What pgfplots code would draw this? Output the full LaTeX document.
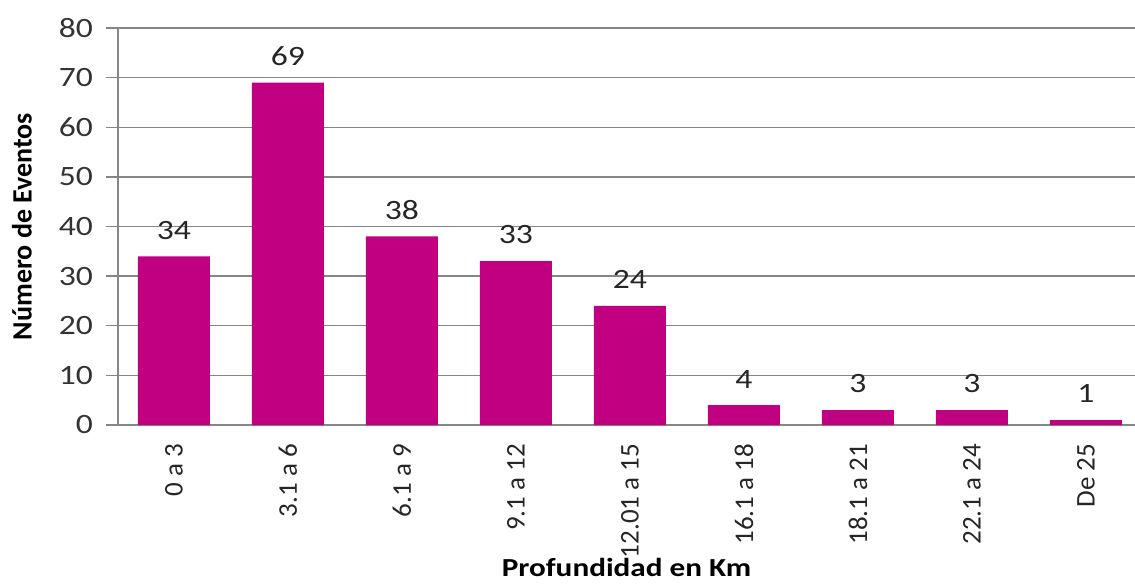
\documentclass[border=0pt]{standalone}
\usepackage{fontspec}
\setmainfont{Carlito}
\newfontfamily\wide[FakeStretch=1.2]{Carlito}
\usepackage{pgfplots}
\pgfplotsset{compat=1.18}
\definecolor{barmag}{RGB}{192,0,128}
\definecolor{gridg}{RGB}{134,134,134}
\begin{document}
\begin{tikzpicture}
\begin{axis}[name=ax, scale only axis, width=508.5pt, height=198.5pt,
  ybar, bar width=36pt,
  xmin=-0.49, xmax=8.43, ymin=0, ymax=80, ytick={0,10,...,80},
  xtick=data,
  xticklabels={0 a 3,3.1 a 6,6.1 a 9,9.1 a 12,12.01 a 15,16.1 a 18,18.1 a 21,22.1 a 24,De 25},
  x tick label style={rotate=90, anchor=east, font=\fontsize{13.5}{15}\selectfont, text=black!85},
  y tick label style={font=\wide\fontsize{14}{16}\selectfont, text=black!80, xshift=-3pt},
  /pgf/number format/assume math mode=true,
  axis x line=bottom, axis y line=left,
  axis line style={-, draw=gridg, line width=0.7pt},
  tick align=outside, major tick length=6pt,
  xtick style={draw=none}, ytick style={draw=gridg, line width=0.7pt},
  ymajorgrids, grid style={draw=gridg, line width=0.7pt},
  nodes near coords,
  every node near coord/.append style={font=\wide\fontsize{14}{16}\selectfont, text=black!85, yshift=5pt},
  xlabel={\textbf{\wide Profundidad en Km}},
  ylabel={\textbf{Número de Eventos}},
  every axis x label/.style={at={(axis description cs:0.5,0)}, anchor=center, yshift=-71pt, font=\fontsize{13}{15}\selectfont},
  every axis y label/.style={at={(axis description cs:0,0.5)}, rotate=90, anchor=center, yshift=48pt, font=\fontsize{14}{16}\selectfont},
]
\addplot[fill=barmag, draw=none] coordinates {(0,34) (1,69) (2,38) (3,33) (4,24) (5,4) (6,3) (7,3) (8,1)};
\end{axis}
\pgfresetboundingbox
\path ([xshift=-59pt,yshift=-80pt]ax.south west) rectangle ([yshift=14pt]ax.north east);
\end{tikzpicture}
\end{document}
